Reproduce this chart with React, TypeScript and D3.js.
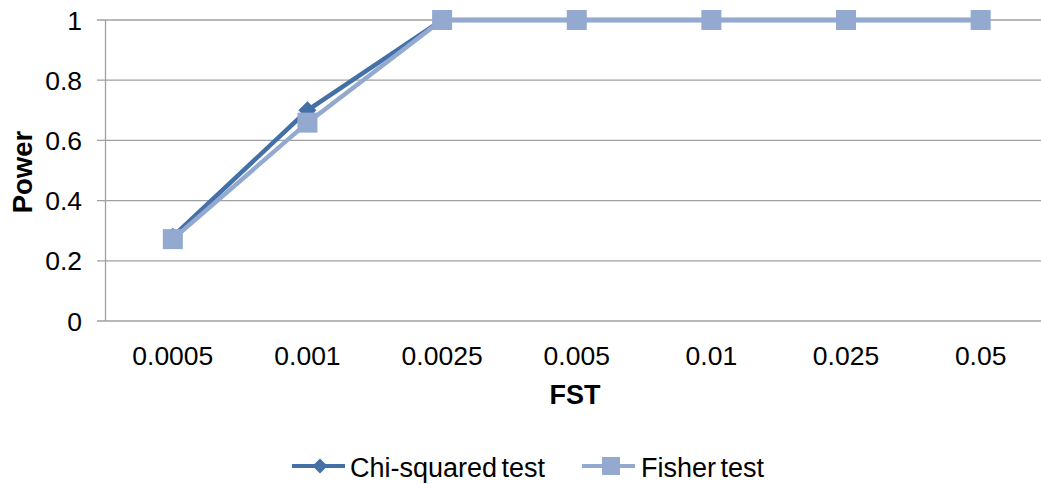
import React from "react";
import * as d3 from "d3";

const categories = ["0.0005", "0.001", "0.0025", "0.005", "0.01", "0.025", "0.05"];
const chiValues = [0.28, 0.7, 1, 1, 1, 1, 1];
const fisherValues = [0.272, 0.659, 1, 1, 1, 1, 1];
const yTicks = [0, 0.2, 0.4, 0.6, 0.8, 1];
const seriesNames = ["Chi-squared test", "Fisher test"];

const W = 1041;
const H = 484;
const left = 105.5;
const right = 1048;
const top = 20;
const bottom = 321;
const chiColor = "#4470A8";
const fisherColor = "#93A9D0";
const font = "'Liberation Sans', Arial, sans-serif";

export default function App() {
  const x = d3.scaleBand<string>().domain(categories).range([left, right]);
  const y = d3.scaleLinear().domain([0, 1]).range([bottom, top]);
  const cx = (c: string) => (x(c) as number) + x.bandwidth() / 2;
  const line = d3
    .line<number>()
    .x((_, i) => cx(categories[i]))
    .y((v) => y(v));

  const diamond = (px: number, py: number, r: number) =>
    `M${px},${py - r}L${px + r},${py}L${px},${py + r}L${px - r},${py}Z`;

  return (
    <svg
      width={W}
      height={H}
      style={{ position: "absolute", left: 0, top: 0, background: "#fff" }}
    >
      {yTicks.map((t) => (
        <g key={t}>
          <line x1={97} x2={W} y1={y(t)} y2={y(t)} stroke="#A0A0A0" strokeWidth={1.3} />
          <text
            x={82}
            y={y(t)}
            dy="0.36em"
            textAnchor="end"
            fontFamily={font}
            fontSize={26.5}
            fill="#000"
          >
            {t}
          </text>
        </g>
      ))}
      <line x1={left} x2={left} y1={top} y2={bottom} stroke="#A0A0A0" strokeWidth={1.3} />
      {categories.map((c) => (
        <text
          key={c}
          x={cx(c)}
          y={355}
          dy="0.36em"
          textAnchor="middle"
          fontFamily={font}
          fontSize={26.5}
          fill="#000"
        >
          {c}
        </text>
      ))}
      <text
        x={575}
        y={394}
        dy="0.36em"
        textAnchor="middle"
        fontFamily={font}
        fontSize={27}
        fontWeight="bold"
      >
        FST
      </text>
      <text
        transform={`translate(22,172) rotate(-90)`}
        dy="0.36em"
        textAnchor="middle"
        fontFamily={font}
        fontSize={27.5}
        fontWeight="bold"
      >
        Power
      </text>

      <path d={line(chiValues) || ""} fill="none" stroke={chiColor} strokeWidth={4.5} />
      {chiValues.map((v, i) => (
        <path key={"c" + i} d={diamond(cx(categories[i]), y(v), 9)} fill={chiColor} />
      ))}
      <path d={line(fisherValues) || ""} fill="none" stroke={fisherColor} strokeWidth={4.5} />
      {fisherValues.map((v, i) => (
        <rect
          key={"f" + i}
          x={cx(categories[i]) - 10}
          y={y(v) - 10}
          width={20}
          height={20}
          fill={fisherColor}
        />
      ))}

      <g>
        <line x1={292} x2={345} y1={466} y2={466} stroke={chiColor} strokeWidth={4} />
        <path d={diamond(320, 466, 7.5)} fill={chiColor} />
        <text
          x={350}
          y={467}
          dy="0.36em"
          fontFamily={font}
          fontSize={27}
          wordSpacing={-3}
          fill="#000"
        >
          {seriesNames[0]}
        </text>
        <line x1={582} x2={635} y1={466} y2={466} stroke={fisherColor} strokeWidth={4} />
        <rect x={602} y={457} width={18} height={18} fill={fisherColor} />
        <text
          x={641}
          y={467}
          dy="0.36em"
          fontFamily={font}
          fontSize={27}
          wordSpacing={-3}
          fill="#000"
        >
          {seriesNames[1]}
        </text>
      </g>
    </svg>
  );
}
